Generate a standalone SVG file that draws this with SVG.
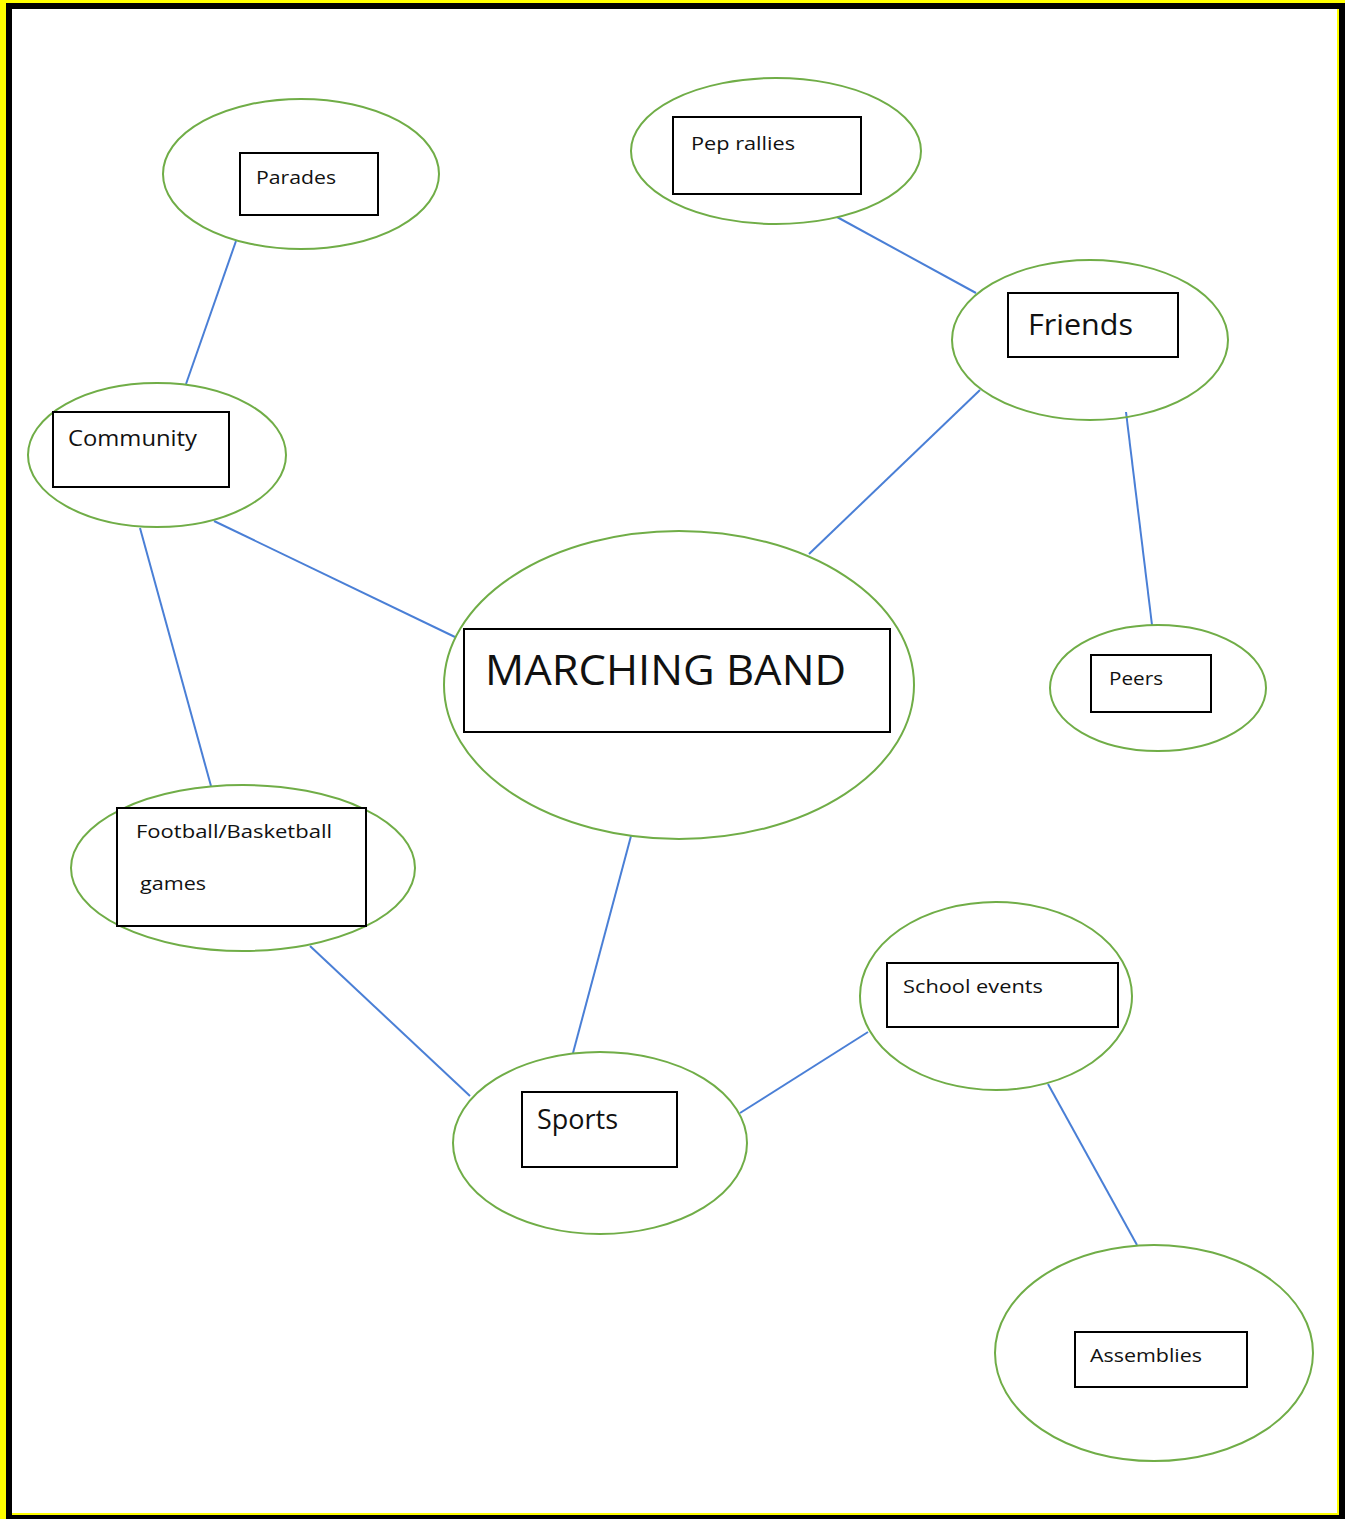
<svg xmlns="http://www.w3.org/2000/svg" width="1345" height="1519" viewBox="0 0 1345 1519">
<style>
.ell{fill:none;stroke:#70AD47;stroke-width:2}
.box{fill:#fff;stroke:#000;stroke-width:2}
.lbl{font-family:"Open Sans","Noto Sans","Liberation Sans",sans-serif;fill:#111}
.con line{stroke:#4A7FD6;stroke-width:2}
</style>
<rect x="0" y="0" width="1345" height="1519" fill="#FFFF00"/>
<rect x="6" y="3" width="1339" height="1516" fill="#000"/>
<rect x="12" y="9" width="1325" height="1504" fill="#FFFF00"/>
<rect x="12" y="9" width="1325" height="1504" fill="#fff"/>
<rect x="1337" y="9" width="2" height="1506" fill="#FFFF00"/>
<rect x="12" y="1513" width="1327" height="2" fill="#FFFF00"/>
<g class="con" id="connectors">
<line x1="236" y1="241" x2="186" y2="384"/>
<line x1="214" y1="521" x2="455" y2="637"/>
<line x1="140" y1="528" x2="211" y2="786"/>
<line x1="837" y1="217" x2="976" y2="293"/>
<line x1="980" y1="390" x2="809" y2="554"/>
<line x1="1126" y1="412" x2="1152" y2="625"/>
<line x1="631" y1="836" x2="573" y2="1053"/>
<line x1="310" y1="946" x2="470" y2="1096"/>
<line x1="740" y1="1113" x2="868" y2="1032"/>
<line x1="1048" y1="1084" x2="1137" y2="1245"/>
</g>
<g id="parades">
<ellipse class="ell" cx="301" cy="174" rx="138" ry="75"/>
<rect class="box" x="240" y="153" width="138" height="62"/>
<text class="lbl" x="256" y="184" font-size="19" textLength="80" lengthAdjust="spacingAndGlyphs">Parades</text>
</g>
<g id="pep-rallies">
<ellipse class="ell" cx="776" cy="151" rx="145" ry="73"/>
<rect class="box" x="673" y="117" width="188" height="77"/>
<text class="lbl" x="691" y="150" font-size="19" textLength="104" lengthAdjust="spacingAndGlyphs">Pep rallies</text>
</g>
<g id="friends">
<ellipse class="ell" cx="1090" cy="340" rx="138" ry="80"/>
<rect class="box" x="1008" y="293" width="170" height="64"/>
<text class="lbl" x="1028" y="335" font-size="29" textLength="105" lengthAdjust="spacingAndGlyphs">Friends</text>
</g>
<g id="community">
<ellipse class="ell" cx="157" cy="455" rx="129" ry="72"/>
<rect class="box" x="53" y="412" width="176" height="75"/>
<text class="lbl" x="68" y="446" font-size="22" textLength="129" lengthAdjust="spacingAndGlyphs">Community</text>
</g>
<g id="marching-band">
<ellipse class="ell" cx="679" cy="685" rx="235" ry="154"/>
<rect class="box" x="464" y="629" width="426" height="103"/>
<text class="lbl" x="485" y="685" font-size="42" textLength="361" lengthAdjust="spacingAndGlyphs">MARCHING BAND</text>
</g>
<g id="peers">
<ellipse class="ell" cx="1158" cy="688" rx="108" ry="63"/>
<rect class="box" x="1091" y="655" width="120" height="57"/>
<text class="lbl" x="1109" y="685" font-size="19" textLength="54" lengthAdjust="spacingAndGlyphs">Peers</text>
</g>
<g id="football-basketball">
<ellipse class="ell" cx="243" cy="868" rx="172" ry="83"/>
<rect class="box" x="117" y="808" width="249" height="118"/>
<text class="lbl" x="136" y="838" font-size="19" textLength="196" lengthAdjust="spacingAndGlyphs">Football/Basketball</text>
<text class="lbl" x="140" y="890" font-size="19" textLength="66" lengthAdjust="spacingAndGlyphs">games</text>
</g>
<g id="school-events">
<ellipse class="ell" cx="996" cy="996" rx="136" ry="94"/>
<rect class="box" x="887" y="963" width="231" height="64"/>
<text class="lbl" x="903" y="993" font-size="19" textLength="140" lengthAdjust="spacingAndGlyphs">School events</text>
</g>
<g id="sports">
<ellipse class="ell" cx="600" cy="1143" rx="147" ry="91"/>
<rect class="box" x="522" y="1092" width="155" height="75"/>
<text class="lbl" x="537" y="1129" font-size="27" textLength="81" lengthAdjust="spacingAndGlyphs">Sports</text>
</g>
<g id="assemblies">
<ellipse class="ell" cx="1154" cy="1353" rx="159" ry="108"/>
<rect class="box" x="1075" y="1332" width="172" height="55"/>
<text class="lbl" x="1090" y="1362" font-size="19" textLength="112" lengthAdjust="spacingAndGlyphs">Assemblies</text>
</g>
</svg>
